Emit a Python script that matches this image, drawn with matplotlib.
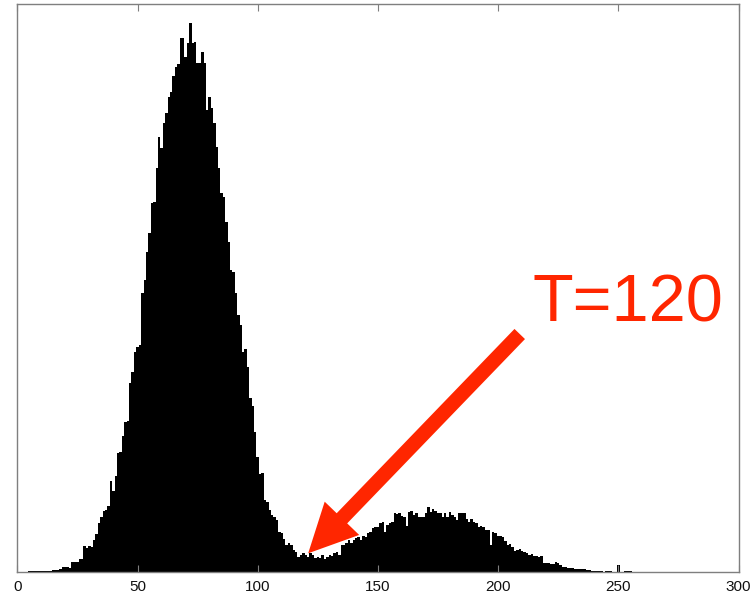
import matplotlib
matplotlib.use("Agg")
import matplotlib.pyplot as plt
from matplotlib.patches import ArrowStyle
import numpy as np

# ---- data (grey levels 0..255) ----
bins = np.arange(256)
counts = [
    3, 3, 3, 3, 3, 7, 7, 7, 7, 7,                              # 0-9
    10, 10, 10, 10, 10, 17, 17, 17, 33, 50,                    # 10-19
    50, 50, 43, 100, 100, 100, 127, 127, 260, 237,             # 20-29
    265, 255, 320, 380, 493, 553, 610, 620, 660, 913,          # 30-39
    813, 960, 1187, 1203, 1360, 1503, 1513, 1893, 2003, 2203,  # 40-49
    2247, 2270, 2793, 2920, 3203, 3387, 3687, 3700, 4040, 4350,  # 50-59
    4240, 4490, 4590, 4750, 4800, 4960, 5050, 5080, 5340, 5340,  # 60-69
    5150, 5290, 5490, 5290, 5300, 5090, 5090, 5200, 5090, 4620,  # 70-79
    4750, 4640, 4490, 4250, 4040, 3790, 3750, 3500, 3300, 3020,  # 80-89
    3000, 2790, 2570, 2470, 2200, 2230, 2050, 1740, 1660, 1400,  # 90-99
    1150, 980, 990, 720, 700, 620, 570, 553, 520, 403,         # 100-109
    387, 327, 270, 287, 270, 220, 203, 153, 170, 187,          # 110-119
    170, 150, 187, 170, 137, 153, 137, 170, 127, 153,          # 120-129
    170, 160, 187, 203, 170, 270, 270, 287, 320, 287,          # 130-139
    320, 340, 353, 320, 360, 353, 393, 403, 437, 453,          # 140-149
    453, 493, 503, 403, 470, 493, 503, 587, 577, 587,          # 150-159
    560, 553, 460, 603, 613, 570, 587, 553, 547, 547,          # 160-169
    587, 653, 603, 627, 613, 587, 587, 547, 587, 547,          # 170-179
    603, 570, 547, 520, 587, 587, 587, 527, 503, 527,          # 180-189
    503, 487, 453, 460, 447, 420, 420, 270, 403, 393,          # 190-199
    360, 360, 347, 307, 270, 283, 253, 213, 220, 227,          # 200-209
    213, 203, 187, 170, 180, 160, 160, 153, 160, 93,           # 210-219
    93, 87, 80, 80, 103, 93, 70, 53, 47, 37,                   # 220-229
    37, 37, 30, 30, 27, 27, 27, 20, 17, 13,                    # 230-239
    13, 10, 10, 10, 3, 7, 10, 10, 3, 3,                        # 240-249
    73, 3, 3, 7, 7, 7,                                         # 250-255
]
xticks = [0, 50, 100, 150, 200, 250, 300]
threshold_label = "T=120"
arrow_tip = (121, 187)
arrow_tail = (209, 2380)
label_pos = (214.3, 2500)

RED = "#FF2600"
FRAME = "#7f7f7f"

fig = plt.figure(figsize=(7.53, 5.98), dpi=100)
ax = fig.add_axes([17.3 / 753, 26 / 598, (738.5 - 17.3) / 753, (572 - 3.5) / 598])

edges = np.append(bins - 0.5, bins[-1] + 0.5)
ax.stairs(counts, edges, fill=True, color="black", linewidth=0)

ax.set_xlim(0, 300)
ax.set_ylim(0, 5685)
ax.set_xticks(xticks)
ax.set_xticklabels([str(t) for t in xticks], fontfamily="Liberation Sans")
ax.set_yticks([])
ax.tick_params(axis="x", direction="in", length=5, width=0.8, color=FRAME,
               top=True, bottom=True, pad=6, labelsize=11, labelcolor="#111111")
for s in ax.spines.values():
    s.set_color(FRAME)
    s.set_linewidth(1.0)

ax.annotate("", xy=arrow_tip, xytext=arrow_tail,
            arrowprops=dict(arrowstyle=ArrowStyle.Simple(head_length=35,
                                                         head_width=34.5,
                                                         tail_width=10.5),
                            mutation_scale=1, facecolor=RED, edgecolor=RED,
                            lw=0, shrinkA=0, shrinkB=0))
ax.text(label_pos[0], label_pos[1], threshold_label, color=RED, fontsize=48,
        fontfamily="Liberation Sans", ha="left", va="baseline")

fig.savefig("out.png", dpi=100)
